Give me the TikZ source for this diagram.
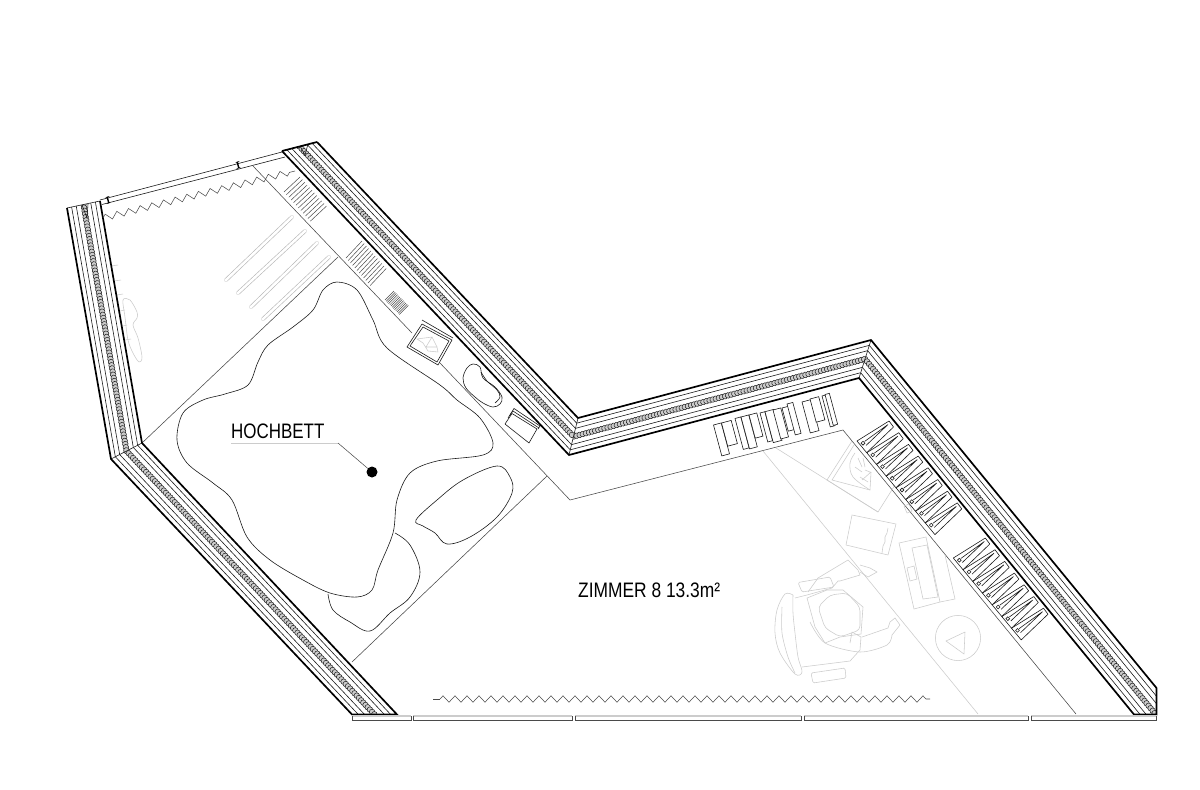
\documentclass[tikz,border=0pt]{standalone}
\usepackage{fontspec}
\newfontfamily\planfont[FakeStretch=0.81]{Liberation Sans}
\newfontfamily\planfontwide[FakeStretch=0.83]{Liberation Sans}
\usetikzlibrary{calc,decorations.markings,decorations.pathmorphing}
\definecolor{ink}{HTML}{1A1A1A}
\definecolor{mid}{HTML}{4A4A4A}
\definecolor{pale}{HTML}{CCCCCC}
\tikzset{
  thin line/.style={draw=ink,line width=0.85pt},
  thick line/.style={draw=black,line width=2.4pt,line join=miter},
  room line/.style={draw=mid,line width=0.8pt},
  pale line/.style={draw=pale,line width=0.8pt,line join=round},
  hatch line/.style={draw=mid,line width=0.7pt},
  curtain/.style={draw=mid,line width=0.75pt,decorate,decoration={zigzag,segment length=0.6cm,amplitude=0.16cm}},
  chain band/.style={decorate,decoration={markings,mark=between positions 0 and 1 step 0.16cm with {\draw[draw=ink,line width=0.7pt,fill=white!60!gray] (0,0) circle (0.14cm);}}},
  plan label/.style={font=\planfont\fontsize{29.8}{32}\selectfont,text=black,inner sep=0pt},
  plan label wide/.style={font=\planfontwide\fontsize{29.8}{32}\selectfont,text=black,inner sep=0pt},
  capsule outer/.style={draw=pale!90!black,line width=5.4pt,line cap=round},
  capsule inner/.style={draw=white,line width=3.6pt,line cap=round},
}
% one wall run: outer/inner start, outer/inner end
\newcommand{\wallrun}[4]{%
  \begin{scope}
    \clip (#1)--(#2)--(#4)--(#3)--cycle;
    \foreach \f in {0.14,0.28,0.72,0.86}{
      \draw[thin line] ($(#1)!\f!(#2)$) -- ($(#3)!\f!(#4)$);
    }
    \path[chain band] ($(#1)!0.5!(#2)$) -- ($(#3)!0.5!(#4)$);
  \end{scope}%
}
\newcommand{\hangerunit}[2]{%
  \begin{scope}[shift={(#1,#2)}]
    \draw[thin line,line join=round] (0,0)--(32,-20)--(36.5,-14)--(9.7,11.7)--cycle;
    \draw[thin line,line join=round] (7.5,0.5)--(31,-16.5)--(9,4.5);
    \draw[thin line] (6,2.2) circle (1.9);
  \end{scope}%
}
\newcommand{\bookbar}[4]{%
  \draw[thin line,fill=white] (#1,#2) -- ++(0.966*#3,-0.259*#3) -- ++(0.259*#4,0.966*#4) -- ++(-0.966*#3,0.259*#3) -- cycle;%
}
\begin{document}
\begin{tikzpicture}[x=0.05cm,y=-0.05cm]
\useasboundingbox (0,0) rectangle (1200,789);
\fill[white] (0,0) rectangle (1200,789);

% wall corners
\coordinate (Ao) at (67,208);   \coordinate (Ai) at (100,201);
\coordinate (Bo) at (111,459);  \coordinate (Bi) at (142,443);
\coordinate (Co) at (352,714.5);\coordinate (Ci) at (397,714.5);
\coordinate (Do) at (317,142);  \coordinate (Di) at (282,151);
\coordinate (Eo) at (578,418);  \coordinate (Ei) at (569,455);
\coordinate (Fo) at (871,340);  \coordinate (Fi) at (859,378);
\coordinate (Go) at (1177.5,714.5); \coordinate (Gi) at (1134,714.5);
\coordinate (Gk) at (1156.5,688); \coordinate (Gb) at (1156.5,714.5);

% long capsules
\foreach \xa/\ya/\xb/\yb in {226/280/292/217,238/293/305/231,251/307/317/243,263/319/329/257}{
  \draw[capsule outer] (\xa,\ya)--(\xb,\yb);
  \draw[capsule inner] (\xa,\ya)--(\xb,\yb);
}

% floor lines
\coordinate (r0) at (253,166);
\coordinate (r1) at (412,333);
\coordinate (r2) at (440,363);
\coordinate (r3) at (570,500);
\coordinate (r4) at (843,430);
\coordinate (r5) at (1076,714);
\coordinate (r6) at (338,257);
\coordinate (r7) at (547,476);
\coordinate (r8) at (352,662);
\draw[room line] (r0)--(r1);
\draw[room line] (r2)--(r3)--(r4)--(r5);
\draw[room line] (Bi)--(r6);
\draw[room line] (r7)--(r8);

% pale furniture
\coordinate (g0) at (763,451);
\coordinate (g1) at (978,714);
\draw[pale line] (g0)--(g1);
\draw[pale line] (776,448)--(878,512)--(895,485);
\draw[pale line] (878,512)--(827,480)--(852,441);
\draw[pale line] (854,445)--(832,480)--(870,490)--(871,472);
\draw[pale line] plot[smooth,tension=.6] coordinates {(855,453)(850,463)(853,477)(870,490)};
\draw[pale line] (858,458)--(862,467) (863,458)--(865,467) (855,467)--(862,472) (860,477)--(868,482) (865,470)--(870,472) (871,472)--(862,480);
% book
\draw[pale line] (852,515)--(896,524)--(888,555)--(846,545)--cycle;
\draw[pale line] (888,528)--(887,533)--(885,537)--(885,542)--(883,546)--(882,553);
% blob by the wall
\draw[pale line] (904,506)--(909,504)--(912,511)--(907,513)--cycle;
% desk
\draw[pale line] (899,543)--(926,537)--(940,602)--(914,609)--cycle;
\draw[pale line] (912,548)--(927,545)--(938,597)--(923,599)--cycle;
\draw[pale line] (907,568)--(914,566)--(917,579)--(910,581)--cycle;
\draw[pale line] (945,555)--(955,599)--(940,602);
% round stool
\draw[pale line] (958,638) circle (22.6);
\draw[pale line] (946,641)--(965,632)--(964,654)--cycle;
% chair
\draw[pale line] plot[smooth,tension=.55] coordinates {(793,595)(785,594)(777,610)(775,633)(780,653)(795,674)(802,672)(798,657)(795,633)(793,613)(793,595)};
\draw[pale line] plot[smooth,tension=.5] coordinates {(782,607)(782,633)(788,657)(795,673)};
\draw[pale line] (807,598)--(827,590)--(843,590)--(863,607)--(861,634)--(840,637)--(825,643)--(815,627)--(807,598);
\draw[pale line,rounded corners=6pt] (818,607)--(830,595)--(847,593)--(860,607)--(860,630)--(840,637)--(825,628)--cycle;
\draw[pale line] plot[smooth,tension=.5] coordinates {(810,622)(825,643)(860,652)(887,645)(892,635)};
\draw[pale line] (862,637)--(888,628)--(890,622)--(895,618)--(900,625)--(892,635);
\draw[pale line,rounded corners=2pt] (798,582.5)--(830,577)--(834,587)--(802,592)--cycle;
\draw[pale line] (795,598)--(807,595)--(832,588)--(838,581)--(840,581)--(860,575)--(858,570)--(848,560)--(818,578)--(808,592);
\draw[pale line] (860,565)--(870,568)--(877,572)--(868,577)--(860,572);
\draw[pale line,rounded corners=2pt] (811,673)--(845,668)--(846,678)--(813,683)--cycle;
\draw[pale line] (802,667)--(850,661)--(860,650)--(861,637)--(852,632)--(850,643);
% plant by the left wall
\draw[pale line] plot[smooth cycle,tension=.55] coordinates {(123,300)(130,300)(137,312)(137,318)(133,325)(138,338)(142,357)(139,362)(133,353)(128,340)(125,317)};
\draw[pale line] (111,266)--(118,265) (114,281)--(121,280) (117,295)--(123,294) (120,311)--(125,310) (123,326)--(127,325) (125,340)--(131,339);

% hatched shelves
\foreach \i in {0,...,11}{
  \draw[hatch line] ({284+2.4*\i},{192+2.65*\i})--({300+2.4*\i},{177+2.65*\i});
}
\foreach \i in {0,...,11}{
  \draw[hatch line] ({346+2.2*\i},{258+2.5*\i})--({362+2.2*\i},{241+2.5*\i});
}
\foreach \i in {0,...,12}{
  \draw[hatch line] ({385+1.2*\i},{300+1.2*\i})--({394+1.2*\i},{291+1.2*\i});
}

% box
\draw[thin line,line join=round,fill=white] (407,347)--(422,324)--(452,340)--(438,365)--cycle;
\draw[thin line,line join=round] (410,346)--(423,327)--(449,341)--(437,362)--cycle;
\draw[thin line] (422,320)--(453,338);
\draw[pale line] (417,339)--(432,337)--(426,347)--(437,347)--(438,352)--(428,351)--(423,343)--cycle;
\draw[pale line] (432,337)--(437,347);
% blob
\draw[thin line] plot[smooth cycle,tension=.6] coordinates {(463,378)(467,368)(473,364)(480,367)(483,378)(495,387)(502,397)(500,404)(493,407)(483,403)(475,397)(466,388)};
\draw[thin line] plot[smooth,tension=.6] coordinates {(481,372)(487,381)(497,390)(500,397)(495,403)};
% tray
\draw[thin line,line join=round] (508,418)--(514,408.5)--(540,426)--(538,429);
\draw[thin line,line join=round] (510,415)--(513,411)--(539,428);
\draw[thin line,line join=round,fill=white] (505,424)--(512,413.5)--(537,429)--(529,443)--cycle;

% book row
\bookbar{713.5}{425}{8}{32}
\bookbar{721.5}{423}{10}{24}
\bookbar{735}{418.5}{6}{32}
\bookbar{741}{417}{8}{33}
\bookbar{749}{415}{8}{24}
\bookbar{760}{413}{5}{30}
\bookbar{765}{411.7}{9}{32}
\bookbar{773}{410}{8}{30}
\bookbar{782}{408}{9}{24}
\bookbar{787}{404}{6}{32}
\bookbar{802}{402}{9}{32}
\bookbar{810}{399}{9}{24}
\bookbar{822}{396}{5}{32}
\bookbar{825}{394.5}{4.5}{32}

% hanging rails
\foreach \i in {0,...,7}{ \hangerunit{857+9.75*\i}{441+11.7*\i} }
\foreach \i in {0,...,6}{ \hangerunit{953.3+9.7*\i}{558+11.7*\i} }

% walls
\wallrun{Ao}{Ai}{Bo}{Bi}
\wallrun{Bo}{Bi}{Co}{Ci}
\wallrun{Do}{Di}{Eo}{Ei}
\wallrun{Eo}{Ei}{Fo}{Fi}
\begin{scope}
  \clip (800,300) rectangle (1156.5,714.5);
  \wallrun{Fo}{Fi}{Go}{Gi}
\end{scope}
\draw[thin line] (Bo)--(Bi) (Eo)--(Ei) (Fo)--(Fi);
\draw[thin line] (Ao)--(Ai) (Di)--(Do);
\draw[thin line] (82,205)--(87,218)--(88,204) (300,146)--(305,155)--(308,144);
\draw[thick line] (Ao)--(Bo)--(Co)--(Ci)--(Bi)--(Ai);
\draw[thick line] (Di)--(Ei)--(Fi)--(Gi)--(Gb)--(Gk)--(Fo)--(Eo)--(Do);
\draw[thick line] (Di)--(Do);

% top window
\coordinate (w1) at (100,200);
\coordinate (w2) at (282,152);
\coordinate (w3) at (102,204.5);
\coordinate (w4) at (285,157);
\draw[thin line] (w1)--(w2);
\draw[thin line] (w3)--(w4);
\foreach \x/\y in {108/200,238/165}{
  \draw[draw=black,line width=2pt] (\x-0.8,\y-3) -- (\x+0.8,\y+3);
  \draw[draw=black,line width=1pt] (\x-2.2,\y-2.5)--(\x+1.2,\y-3.5) (\x-1.2,\y+3.5)--(\x+2.2,\y+2.5);
}

% curtains
\coordinate (c1) at (103,218);
\coordinate (c2) at (295,171);
\draw[curtain] (c1)--(c2);
\coordinate (c3) at (433,699);
\coordinate (c4) at (440,699);
\coordinate (c5) at (930,699);
\draw[mid,line width=0.75pt] (c3)--(c4);
\draw[curtain] (c4)--(c5);

% bottom window
\foreach \a/\b in {352/411,413/572,575/801,804/1028,1031/1156.5}{
  \draw[draw=pale,line width=1.5pt] (\a,716)--(\b,716);
  \draw[draw=mid,line width=0.85pt] (\a,716)--(\a,720.5)--(\b,720.5)--(\b,716);
}

% bed outlines
\draw[thin line] plot[smooth cycle,tension=.55] coordinates {
 (203,400)(183,413)(177,440)(187,463)(213,483)(232,500)(247,537)(270,560)(303,580)(330,593)(357,597)(372,590)(378,570)(393,533)(397,500)(410,473)(437,461)(483,455)(493,443)(480,418)(457,400)(440,385)(387,348)(373,320)(357,290)(337,282)(323,290)(313,310)(293,327)(268,345)(258,362)(248,385)(225,394)};
\draw[thin line] plot[smooth cycle,tension=.6] coordinates {(416,520)(437,500)(463,480)(497,466)(510,477)(512,493)(497,517)(470,537)(447,544)(435,533)(423,526)};
\draw[thin line] plot[smooth,tension=.6] coordinates {(395,533)(410,545)(420,572)(410,597)(390,613)(370,631)(350,622)(333,610)(328,594)};

% labels
\node[plan label,anchor=base west] (hoch) at (231,438) {HOCHBETT};
\node[plan label wide,anchor=base west] (zimmer) at (578,597) {ZIMMER 8 13.3m²};
\coordinate (l0) at (231,443);
\coordinate (l1) at (338,443);
\node[circle,fill=black,inner sep=0pt,minimum size=0.55cm] (dot) at (372,472) {};
\draw[pale line] (l0)--(l1);
\draw[draw=mid,line width=0.75pt] (l1)--(dot);
\end{tikzpicture}
\end{document}
